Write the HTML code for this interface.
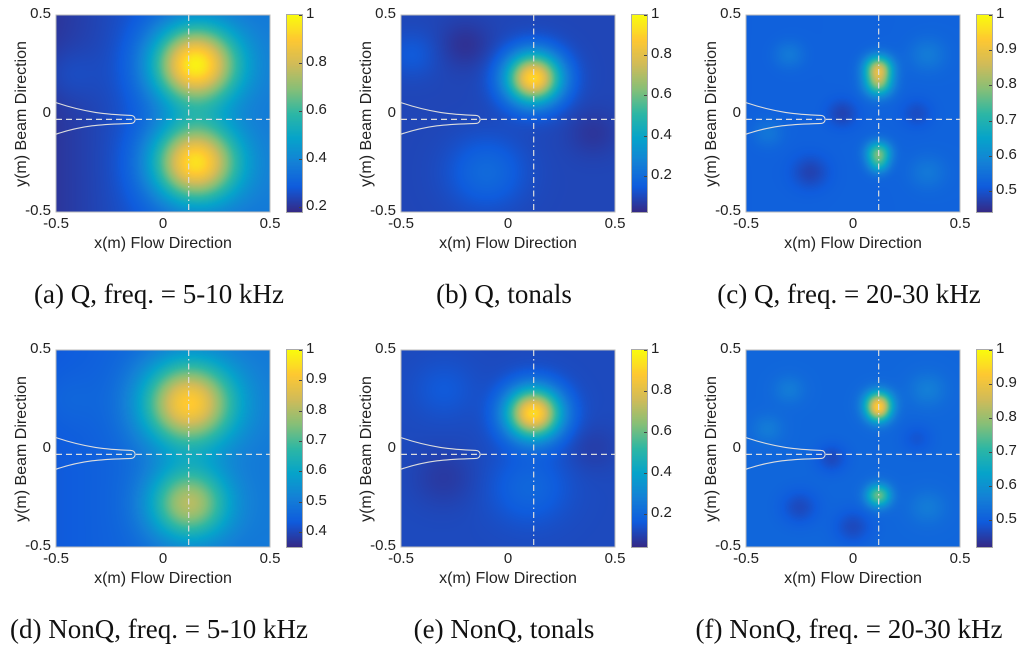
<!DOCTYPE html>
<html><head><meta charset="utf-8">
<style>
body{margin:0;background:#fff;width:1024px;height:649px;position:relative;overflow:hidden;font-family:"Liberation Sans",sans-serif;}
.abs{position:absolute;}
.tick{position:absolute;font-size:15px;color:#222;white-space:nowrap;}
.cap{position:absolute;font-family:"Liberation Serif",serif;font-size:27px;color:#111;white-space:nowrap;transform:translateX(-50%);}
canvas{position:absolute;}
</style></head>
<body>
<div id="root"></div>
<script>
const panelLabels=["(a) Q, freq. = 5-10 kHz","(b) Q, tonals","(c) Q, freq. = 20-30 kHz","(d) NonQ, freq. = 5-10 kHz","(e) NonQ, tonals","(f) NonQ, freq. = 20-30 kHz"];
const baseLeft=[0.03,0.07,0.14,0.12,0.08,0.16];
const baseRight=[0.22,0.07,0.15,0.22,0.08,0.16];
const blobsA=[[0.15,0.25,0.14,0.82],[0.15,-0.25,0.14,0.78],[-0.45,0.2,0.1,0.04]];
const blobsB=[[0.12,0.18,0.09,0.84],[-0.1,-0.3,0.12,0.1],[-0.45,0.3,0.08,0.05],[0.4,-0.1,0.08,-0.04],[-0.2,0.35,0.08,-0.05]];
const blobsC=[[0.12,0.23,0.045,0.55],[0.12,0.15,0.045,0.4],[0.12,-0.2,0.04,0.4],[0.12,-0.26,0.035,0.2],[-0.3,0.3,0.05,0.08],[0.35,0.3,0.06,0.08],[-0.2,-0.3,0.06,-0.08],[-0.05,0.0,0.05,-0.08],[0.35,-0.3,0.06,0.07],[-0.4,-0.1,0.05,0.07],[0.3,0.0,0.05,-0.06]];
const blobsD=[[0.12,0.23,0.15,0.7],[0.12,-0.28,0.13,0.52],[-0.45,0.25,0.1,0.03]];
const blobsE=[[0.12,0.18,0.09,0.84],[0.1,-0.2,0.12,0.08],[-0.3,0.3,0.1,0.04],[-0.3,-0.15,0.1,-0.04],[0.4,0.0,0.08,-0.03]];
const blobsF=[[0.12,0.23,0.045,0.55],[0.12,0.18,0.04,0.3],[0.12,-0.24,0.04,0.42],[-0.3,0.3,0.05,0.07],[0.35,0.3,0.06,0.08],[-0.25,-0.3,0.06,-0.08],[-0.1,-0.05,0.05,-0.08],[0.0,-0.4,0.06,-0.08],[0.35,-0.3,0.06,0.07],[-0.4,0.1,0.05,0.07],[0.3,0.05,0.05,-0.05]];
const allBlobs=[blobsA,blobsB,blobsC,blobsD,blobsE,blobsF];
const cbTicks=[[0.2,0.4,0.6,0.8,1],[0.2,0.4,0.6,0.8,1],[0.5,0.6,0.7,0.8,0.9,1],[0.4,0.5,0.6,0.7,0.8,0.9,1],[0.2,0.4,0.6,0.8,1],[0.5,0.6,0.7,0.8,0.9,1]];
const cbMin=[0.18,0.02,0.44,0.35,0.04,0.42];

const parula=[[53,42,135],[15,92,221],[20,129,214],[6,164,202],[46,183,164],[135,191,119],[209,187,89],[254,200,50],[249,251,14]];
function cmap(t){t=Math.max(0,Math.min(1,t));const f=t*8,i=Math.min(7,Math.floor(f)),u=f-i;const a=parula[i],b=parula[i+1];return [a[0]+(b[0]-a[0])*u,a[1]+(b[1]-a[1])*u,a[2]+(b[2]-a[2])*u];}
const W=214,H=197;
const root=document.getElementById('root');
function el(tag,cls,txt){const e=document.createElement(tag);if(cls)e.className=cls;if(txt!==undefined)e.textContent=txt;root.appendChild(e);return e;}
for(let p=0;p<6;p++){
  const col=p%3,row=Math.floor(p/3);
  const L=56+345*col,T=15+335*row;
  const c=el('canvas');c.width=W;c.height=H;c.style.left=L+'px';c.style.top=T+'px';
  
  
  const ctx=c.getContext('2d');const img=ctx.createImageData(W,H);
  for(let j=0;j<H;j++)for(let i=0;i<W;i++){
    const x=-0.5+i/(W-1),y=0.5-j/(H-1);
    let v=baseLeft[p]+(baseRight[p]-baseLeft[p])*(x+0.5);
    for(const b of allBlobs[p]){const dx=x-b[0],dy=y-b[1];v+=b[3]*Math.exp(-(dx*dx+dy*dy)/(2*b[2]*b[2]));}
    const rgb=cmap(v);const k=(j*W+i)*4;img.data[k]=rgb[0];img.data[k+1]=rgb[1];img.data[k+2]=rgb[2];img.data[k+3]=255;}
  ctx.putImageData(img,0,0);
  const svg=document.createElementNS('http://www.w3.org/2000/svg','svg');
  svg.setAttribute('width',W);svg.setAttribute('height',H);
  svg.setAttribute('style','position:absolute;left:'+L+'px;top:'+T+'px;overflow:visible');
  
  
  const sx=x=>(x+0.5)*W, sy=y=>(0.5-y)*H;
  const yc=sy(-0.03), xv=sx(0.12), xt=sx(-0.13);
  svg.innerHTML=
   '<rect x="0" y="0" width="'+W+'" height="'+H+'" fill="none" stroke="#bbb" stroke-width="1"/>'+
   '<line x1="0" y1="'+yc+'" x2="'+W+'" y2="'+yc+'" stroke="#ddd" stroke-width="1.3" stroke-dasharray="6,4"/>'+
   '<line x1="'+xv+'" y1="0" x2="'+xv+'" y2="'+H+'" stroke="#ddd" stroke-width="1.2" stroke-dasharray="6,3,1.5,3"/>'+
   '<path d="M0,'+sy(0.055)+' C30,'+(sy(0.055)+10)+' 50,'+(yc-5)+' '+(xt-4)+','+(yc-4)+' A4,4 0 0 1 '+(xt-4)+','+(yc+4)+' C50,'+(yc+5)+' 30,'+(sy(-0.105)-10)+' 0,'+sy(-0.105)+'" fill="none" stroke="#ddd" stroke-width="1.1"/>';
  root.appendChild(svg);
  for(const [t,f] of [['-0.5',0],['0',0.5],['0.5',1]]){const d=el('div','tick',t);d.style.left=(L+f*W)+'px';d.style.top=(T+H+3)+'px';d.style.transform='translateX(-50%)';
    }
  for(const [t,f] of [['0.5',0],['0',0.5],['-0.5',1]]){const d=el('div','tick',t);d.style.right=(1024-L+5)+'px';d.style.top=(T+f*H-10)+'px';
    }
  const xl=el('div','tick','x(m) Flow Direction');xl.style.fontSize='16px';xl.style.left=(L+W/2)+'px';xl.style.top=(T+H+23)+'px';xl.style.transform='translateX(-50%)';
  
  const yl=el('div','tick','y(m) Beam Direction');yl.style.fontSize='16px';yl.style.left=(L-34)+'px';yl.style.top=(T+H/2)+'px';yl.style.transform='translate(-50%,-50%) rotate(-90deg)';
  
  const CL=L+231,CW=15;
  const cb=el('canvas');cb.width=CW;cb.height=H;cb.style.left=CL+'px';cb.style.top=T+'px';cb.style.outline='1px solid #aaa';
  
  const cctx=cb.getContext('2d');
  for(let j=0;j<H;j++){const rgb=cmap(1-j/(H-1));cctx.fillStyle='rgb('+rgb.map(Math.round).join(',')+')';cctx.fillRect(0,j,CW,1);}
  for(const t of cbTicks[p]){const f=(1-t)/(1-cbMin[p]);const d=el('div','tick',String(t));d.style.left=(CL+CW+4)+'px';d.style.top=(T+f*H-10)+'px';
    
    const m=el('div','abs');m.style.left=(CL+CW-3)+'px';m.style.top=(T+f*H)+'px';m.style.width='3px';m.style.height='1px';m.style.background='#444';
    }
  const cap=el('div','cap',panelLabels[p]);cap.style.left=(L+W/2-4)+'px';cap.style.top=(T+264)+'px';
  
}
</script>
</body></html>
